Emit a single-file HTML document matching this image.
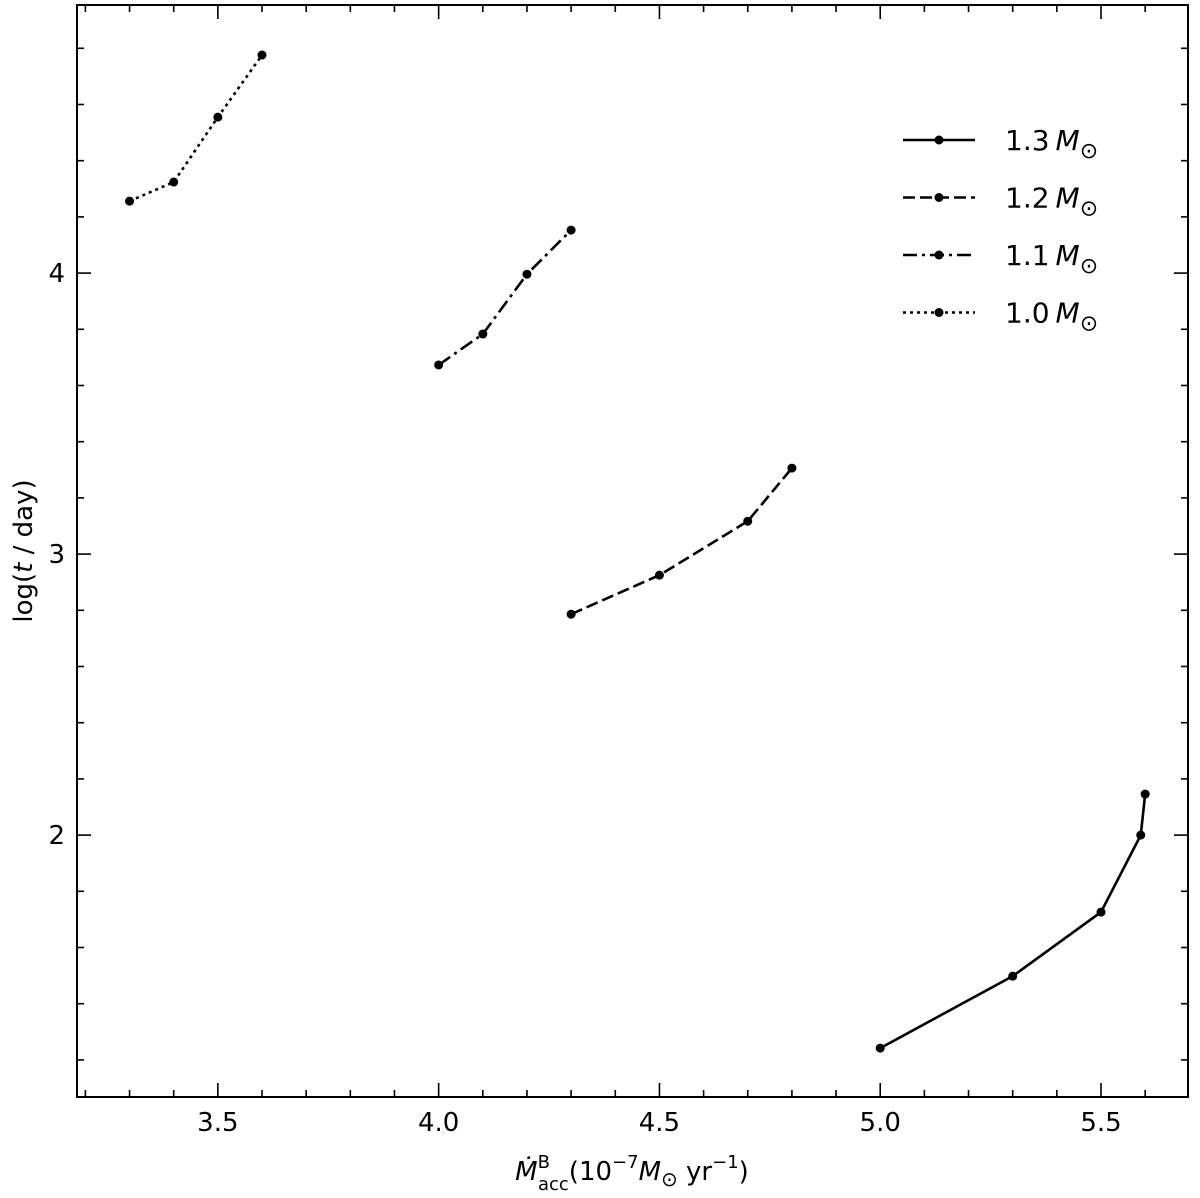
<!DOCTYPE html>
<html><head><meta charset="utf-8"><style>
body{margin:0;background:#fff;}
svg{display:block;font-family:"DejaVu Sans","Liberation Sans",sans-serif;}
</style></head><body>
<svg id="chart" width="1200" height="1198"></svg>
<script>
const seriesLabels=["1.3","1.2","1.1","1.0"];
const xs13=[5.0,5.3,5.5,5.59,5.6];
const ys13=[1.242,1.498,1.726,2.0,2.146];
const xs12=[4.3,4.5,4.7,4.8];
const ys12=[2.786,2.925,3.117,3.306];
const xs11=[4.0,4.1,4.2,4.3];
const ys11=[3.673,3.783,3.996,4.153];
const xs10=[3.3,3.4,3.5,3.6];
const ys10=[4.256,4.324,4.555,4.776];
const xTickLabels=["3.5","4.0","4.5","5.0","5.5"];
const yTickLabels=["2","3","4"];

const L=77,R=1188,T=5,B=1097;
const XMIN=3.181,XMAX=5.697,YMIN=1.068,YMAX=4.954;
const sx=v=>L+(v-XMIN)/(XMAX-XMIN)*(R-L);
const sy=v=>B-(v-YMIN)/(YMAX-YMIN)*(B-T);
const svg=document.getElementById('chart');
const NS="http://www.w3.org/2000/svg";
function mk(tag,attrs,name,parent){const e=document.createElementNS(NS,tag);for(const k in attrs)e.setAttribute(k,attrs[k]);


(parent||svg).appendChild(e);return e;}
mk('rect',{x:L,y:T,width:R-L,height:B-T,fill:'none',stroke:'#000','stroke-width':2},'plot-frame');
// x ticks
for(let i=32;i<=56;i++){const v=i/10,x=sx(v),maj=i%5==0,len=maj?14:7;
mk('line',{x1:x,y1:B,x2:x,y2:B-len,stroke:'#000','stroke-width':1.6},'x-tick');
mk('line',{x1:x,y1:T,x2:x,y2:T+len,stroke:'#000','stroke-width':1.6},'x-tick-top');}
xTickLabels.forEach(t=>{const e=mk('text',{x:sx(parseFloat(t)),y:B+34,'text-anchor':'middle','font-size':26},'x-tick-label');e.textContent=t;});
for(let i=6;i<=24;i++){const v=i/5,y=sy(v),maj=i%5==0,len=maj?14:7;
mk('line',{x1:L,y1:y,x2:L+len,y2:y,stroke:'#000','stroke-width':1.6},'y-tick');
mk('line',{x1:R,y1:y,x2:R-len,y2:y,stroke:'#000','stroke-width':1.6},'y-tick-right');}
yTickLabels.forEach(t=>{const e=mk('text',{x:L-12,y:sy(parseFloat(t))+9,'text-anchor':'end','font-size':26},'y-tick-label');e.textContent=t;});
const xt=mk('text',{x:632,y:1180,'text-anchor':'middle','font-size':26},'x-axis-title');
xt.innerHTML='<tspan font-style="italic">Ṁ</tspan><tspan font-size="18" dy="-12">B</tspan><tspan font-size="18" dx="-12" dy="22">acc</tspan><tspan dy="-10">(10</tspan><tspan font-size="18" dy="-12">−7</tspan><tspan dy="12" font-style="italic">M</tspan><tspan font-size="20" dy="6">⊙</tspan><tspan dy="-6"> yr</tspan><tspan font-size="18" dy="-12">−1</tspan><tspan dy="12">)</tspan>';
const yt=mk('text',{x:0,y:0,'text-anchor':'middle','font-size':26,transform:'translate(32,551) rotate(-90)'},'y-axis-title');
yt.innerHTML='log(<tspan font-style="italic">t</tspan> / day)';
const dashes=["","12,5","14,5,3,5","3,4"];
const data=[[xs13,ys13],[xs12,ys12],[xs11,ys11],[xs10,ys10]];
data.forEach((d,k)=>{const g=mk('g',{},'series-'+seriesLabels[k]);
const pts=d[0].map((x,i)=>sx(x)+','+sy(d[1][i])).join(' ');
const pl=mk('polyline',{points:pts,fill:'none',stroke:'#000','stroke-width':2.6,'stroke-dasharray':dashes[k]},'series-line',g);
d[0].forEach((x,i)=>mk('circle',{cx:sx(x),cy:sy(d[1][i]),r:4.5,fill:'#000'},'data-point',g));
const ly=140+k*57.5;
const lg=mk('g',{},'legend-entry',svg);
mk('line',{x1:903,y1:ly,x2:975,y2:ly,stroke:'#000','stroke-width':2.6,'stroke-dasharray':dashes[k]},'legend-line',lg);
mk('circle',{cx:939,cy:ly,r:4.5,fill:'#000'},'legend-marker',lg);
const tx=mk('text',{x:1005,y:ly+10,'font-size':28},'legend-label',lg);
tx.innerHTML=seriesLabels[k]+'<tspan font-style="italic" dx="6">M</tspan><tspan font-size="22" dy="8">⊙</tspan>';
});
</script>
</body></html>
